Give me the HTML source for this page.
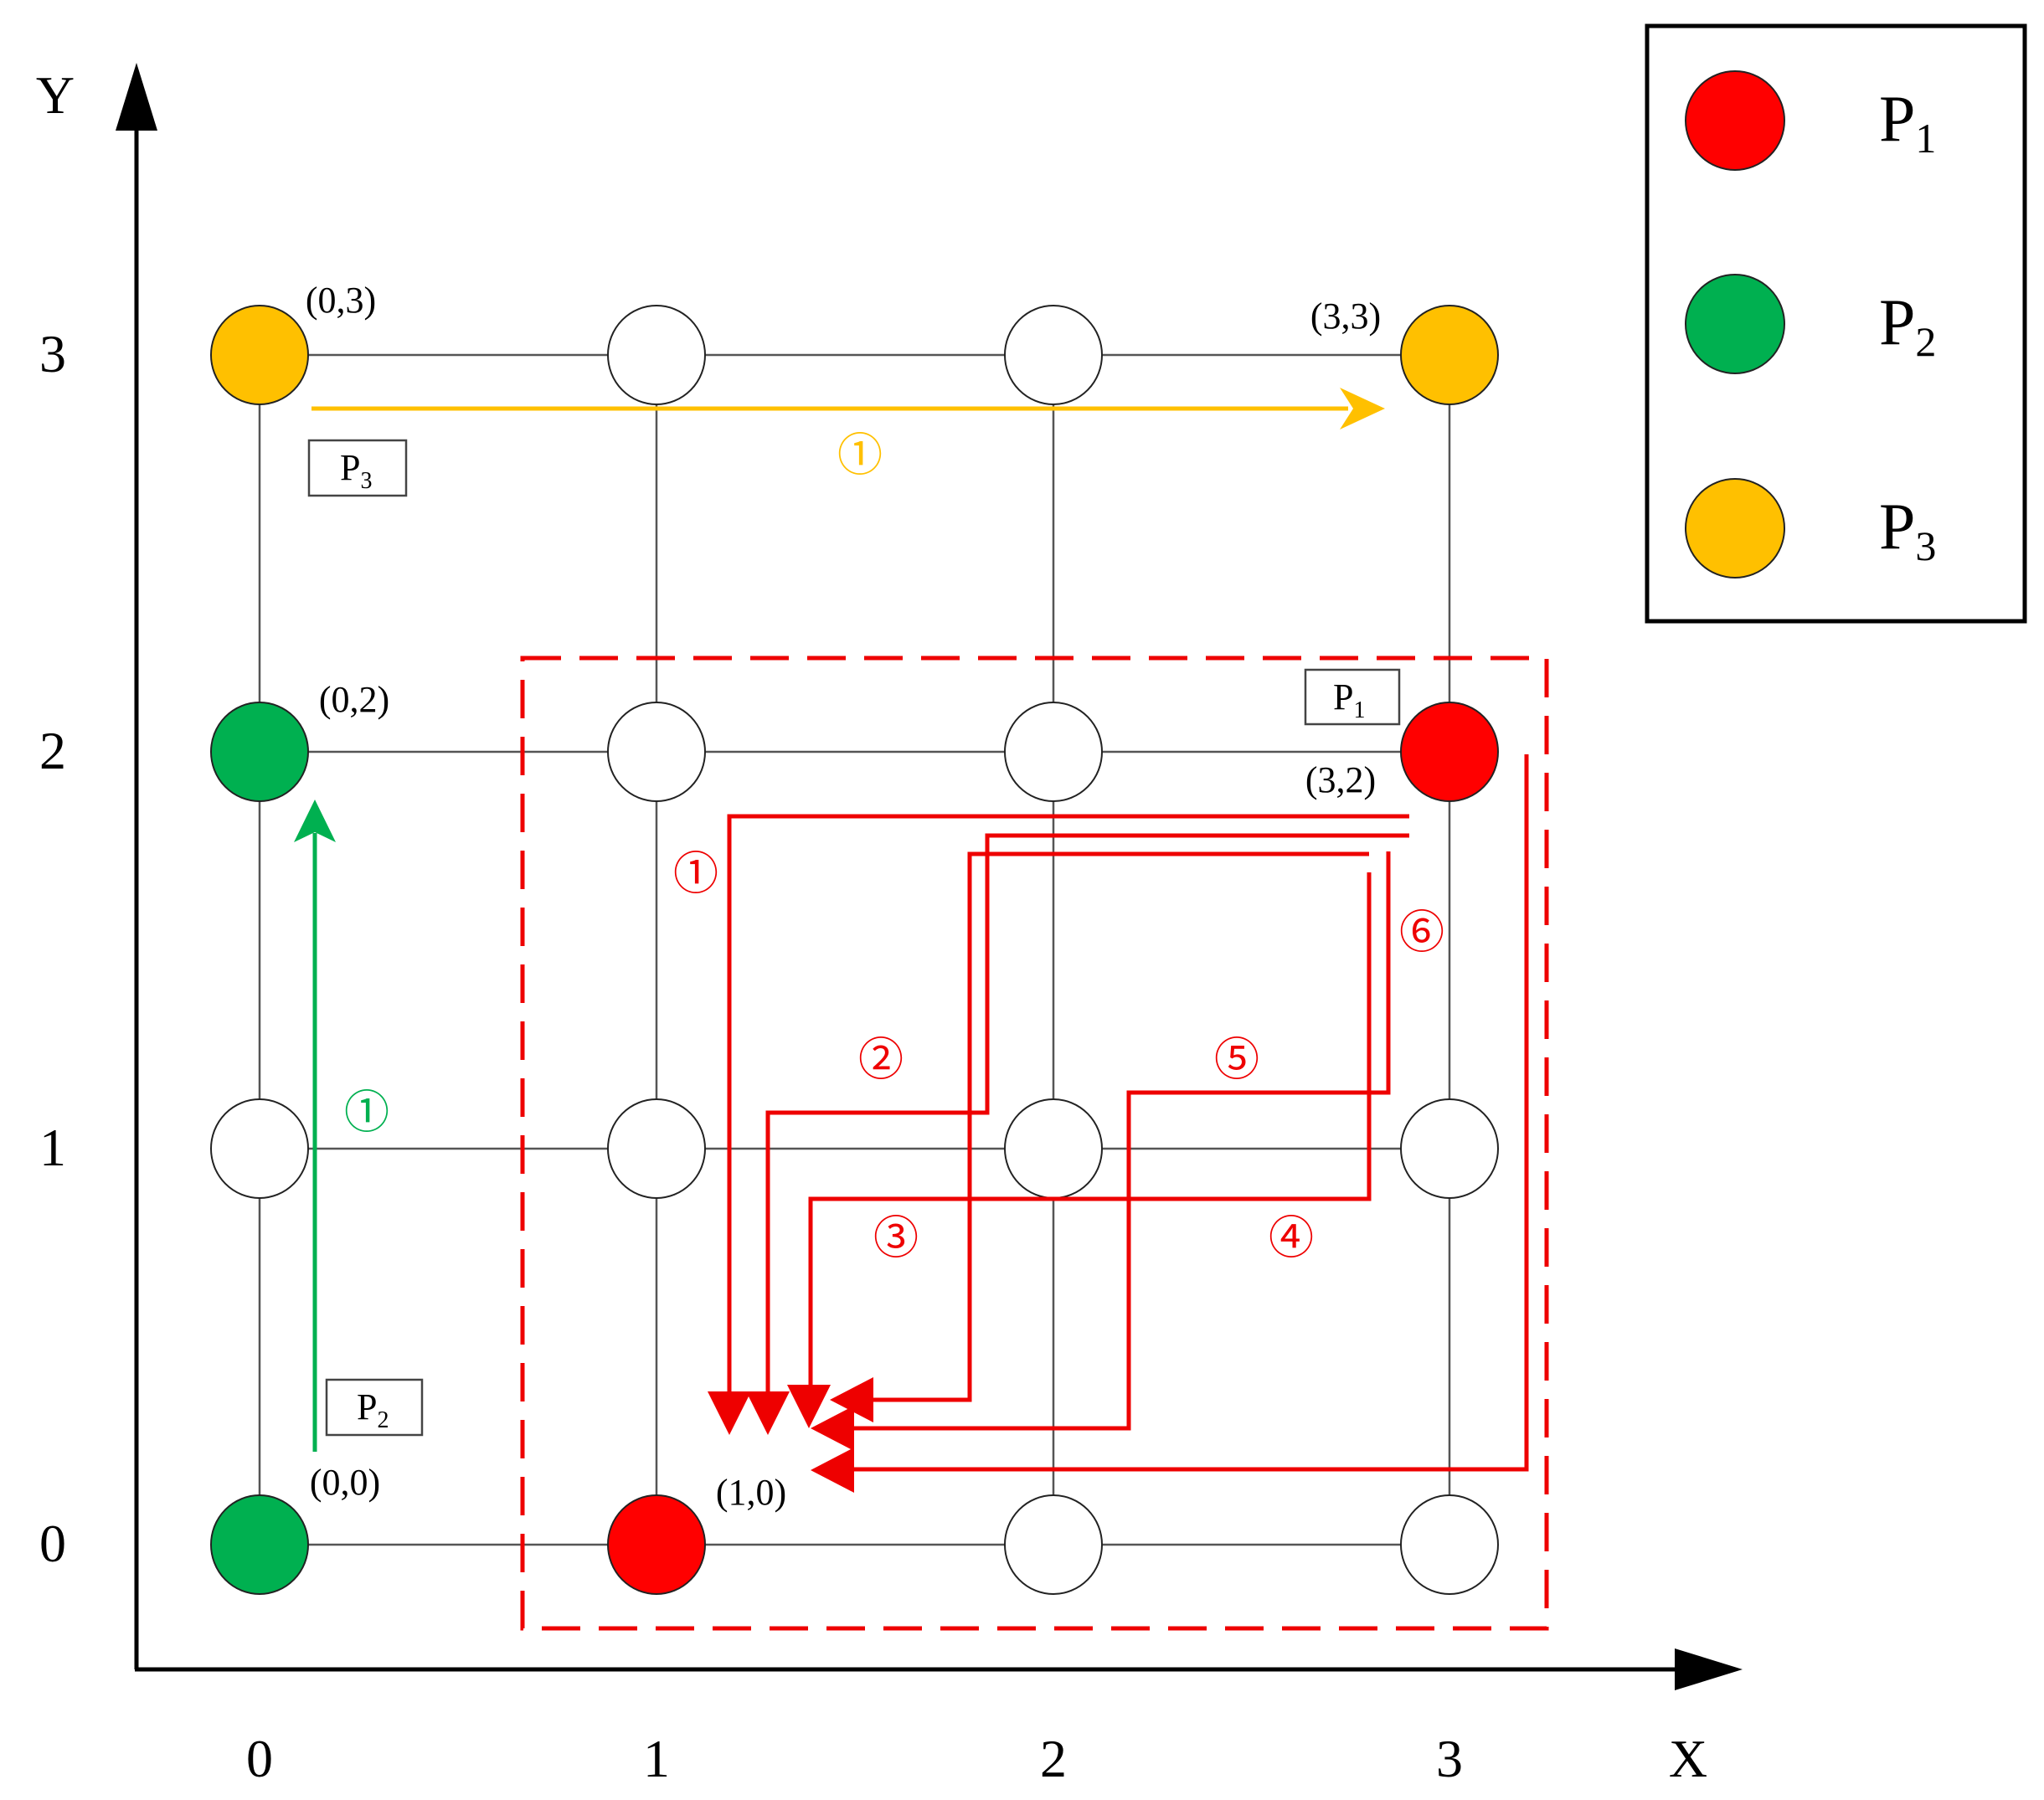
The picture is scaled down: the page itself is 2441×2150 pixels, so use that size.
<!DOCTYPE html>
<html><head><meta charset="utf-8"><style>html,body{margin:0;padding:0;background:#fff}svg{display:block}</style></head>
<body>
<svg width="2441" height="2150" viewBox="0 0 2441 2150" xmlns="http://www.w3.org/2000/svg" font-family="'Liberation Serif', 'Noto Serif CJK SC', serif">
<!-- axes -->
<line x1="163" y1="150" x2="163" y2="1994" stroke="#000" stroke-width="5"/>
<polygon points="163,75 138,156 188,156" fill="#000"/>
<line x1="161" y1="1994" x2="2010" y2="1994" stroke="#000" stroke-width="5"/>
<polygon points="2081,1994 2000,1969 2000,2019" fill="#000"/>
<g font-size="64" fill="#000" text-anchor="middle">
<text x="66" y="135">Y</text>
<text x="2016" y="2122">X</text>
<text x="63" y="444">3</text><text x="63" y="918">2</text><text x="63" y="1392">1</text><text x="63" y="1865">0</text>
<text x="310" y="2122">0</text><text x="784" y="2122">1</text><text x="1258" y="2122">2</text><text x="1731" y="2122">3</text>
</g>
<!-- grid lines -->
<g stroke="#555" stroke-width="2.5">
<line x1="310" y1="424" x2="1731" y2="424"/><line x1="310" y1="898" x2="1731" y2="898"/>
<line x1="310" y1="1372" x2="1731" y2="1372"/><line x1="310" y1="1845" x2="1731" y2="1845"/>
<line x1="310" y1="424" x2="310" y2="1845"/><line x1="784" y1="424" x2="784" y2="1845"/>
<line x1="1258" y1="424" x2="1258" y2="1845"/><line x1="1731" y1="424" x2="1731" y2="1845"/>
</g>
<!-- nodes -->
<g stroke="#222" stroke-width="2">
<ellipse cx="310" cy="424" rx="58" ry="59" fill="#FFC000"/>
<ellipse cx="784" cy="424" rx="58" ry="59" fill="#fff"/>
<ellipse cx="1258" cy="424" rx="58" ry="59" fill="#fff"/>
<ellipse cx="1731" cy="424" rx="58" ry="59" fill="#FFC000"/>
<ellipse cx="310" cy="898" rx="58" ry="59" fill="#00B050"/>
<ellipse cx="784" cy="898" rx="58" ry="59" fill="#fff"/>
<ellipse cx="1258" cy="898" rx="58" ry="59" fill="#fff"/>
<ellipse cx="1731" cy="898" rx="58" ry="59" fill="#FF0000"/>
<ellipse cx="310" cy="1372" rx="58" ry="59" fill="#fff"/>
<ellipse cx="784" cy="1372" rx="58" ry="59" fill="#fff"/>
<ellipse cx="1258" cy="1372" rx="58" ry="59" fill="#fff"/>
<ellipse cx="1731" cy="1372" rx="58" ry="59" fill="#fff"/>
<ellipse cx="310" cy="1845" rx="58" ry="59" fill="#00B050"/>
<ellipse cx="784" cy="1845" rx="58" ry="59" fill="#FF0000"/>
<ellipse cx="1258" cy="1845" rx="58" ry="59" fill="#fff"/>
<ellipse cx="1731" cy="1845" rx="58" ry="59" fill="#fff"/>
</g>
<!-- coordinate labels -->
<g font-size="44" fill="#000" text-anchor="middle">
<text x="407" y="373">(0,3)</text>
<text x="1607" y="392">(3,3)</text>
<text x="423" y="850">(0,2)</text>
<text x="1601" y="946">(3,2)</text>
<text x="412" y="1785">(0,0)</text>
<text x="897" y="1797">(1,0)</text>
</g>
<!-- dashed box -->
<rect x="624" y="786" width="1223" height="1159" fill="none" stroke="#E00" stroke-width="5" stroke-dasharray="46,22"/>
<!-- yellow arrow -->
<line x1="372" y1="488" x2="1610" y2="488" stroke="#FFC000" stroke-width="5"/>
<polygon points="1654,488 1600,463 1616,488 1600,513" fill="#FFC000"/>
<text x="1027" y="562" font-size="54" fill="#FFC000" text-anchor="middle" font-family="'Noto Sans CJK SC', sans-serif">①</text>
<!-- green arrow -->
<line x1="376" y1="1734" x2="376" y2="995" stroke="#00B050" stroke-width="5"/>
<polygon points="376,955 351,1006 376,994 401,1006" fill="#00B050"/>
<text x="438" y="1347" font-size="54" fill="#00B050" text-anchor="middle" font-family="'Noto Sans CJK SC', sans-serif">①</text>
<!-- P boxes -->
<g font-size="44" fill="#000" stroke-width="2.5">
<rect x="369" y="526" width="116" height="66" fill="#fff" stroke="#444"/>
<text x="406" y="573">P<tspan font-size="28" dy="10">3</tspan></text>
<rect x="390" y="1648" width="114" height="66" fill="#fff" stroke="#444"/>
<text x="426" y="1695">P<tspan font-size="28" dy="10">2</tspan></text>
<rect x="1559" y="800" width="112" height="65" fill="#fff" stroke="#444"/>
<text x="1592" y="847">P<tspan font-size="28" dy="10">1</tspan></text>
</g>
<!-- red paths -->
<g fill="none" stroke="#E00" stroke-width="5">
<polyline points="1683,975 871,975 871,1670"/>
<polyline points="1683,998 1179,998 1179,1329 917,1329 917,1670"/>
<polyline points="1635,1020 1158,1020 1158,1672 1040,1672"/>
<polyline points="1635,1042 1635,1432 968,1432 968,1660"/>
<polyline points="1658,1017 1658,1305 1348,1305 1348,1706 1012,1706"/>
<polyline points="1823,901 1823,1755 1012,1755"/>
</g>
<g fill="#E00">
<polygon points="871,1714 845,1662 897,1662"/>
<polygon points="917,1714 891,1662 943,1662"/>
<polygon points="966,1706 940,1654 992,1654"/>
<polygon points="991,1672 1043,1645 1043,1699"/>
<polygon points="968,1706 1020,1679 1020,1733"/>
<polygon points="968,1756 1020,1729 1020,1783"/>
</g>
<g font-size="54" fill="#E00" text-anchor="middle" font-family="'Noto Sans CJK SC', sans-serif">
<text x="831" y="1062">①</text>
<text x="1052" y="1284">②</text>
<text x="1070" y="1497">③</text>
<text x="1542" y="1497">④</text>
<text x="1477" y="1284">⑤</text>
<text x="1698" y="1132">⑥</text>
</g>
<!-- legend -->
<rect x="1967" y="31" width="451" height="711" fill="#fff" stroke="#000" stroke-width="5"/>
<g stroke="#222" stroke-width="2">
<ellipse cx="2072" cy="144" rx="59" ry="59" fill="#FF0000"/>
<ellipse cx="2072" cy="387" rx="59" ry="59" fill="#00B050"/>
<ellipse cx="2072" cy="631" rx="59" ry="59" fill="#FFC000"/>
</g>
<g font-size="78" fill="#000">
<text x="2244" y="168">P<tspan font-size="50" dy="14">1</tspan></text>
<text x="2244" y="411">P<tspan font-size="50" dy="14">2</tspan></text>
<text x="2244" y="655">P<tspan font-size="50" dy="14">3</tspan></text>
</g>
</svg>
</body></html>
